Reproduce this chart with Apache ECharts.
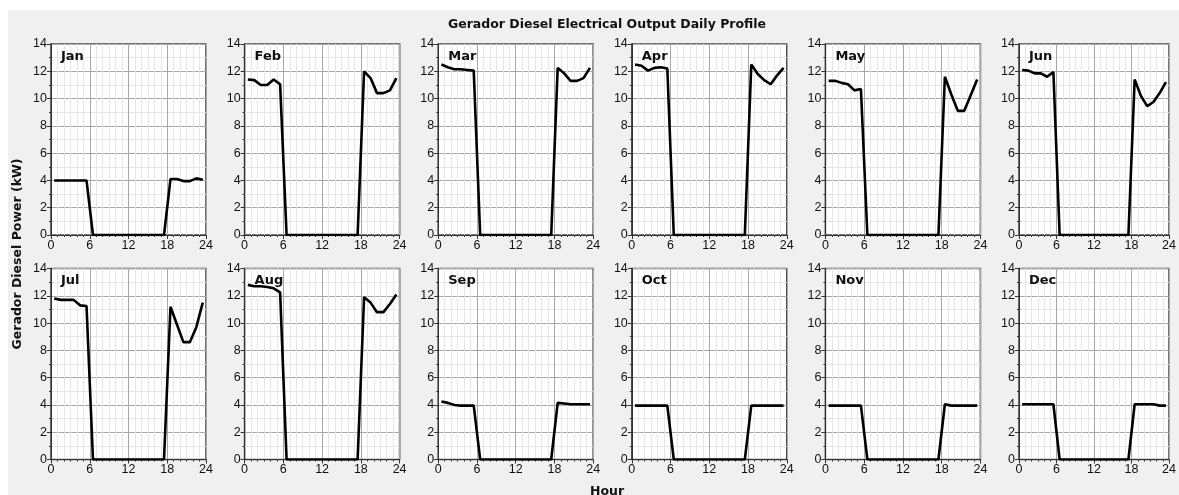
<!DOCTYPE html>
<html>
<head>
<meta charset="utf-8">
<script src="https://cdn.jsdelivr.net/npm/echarts@6/dist/echarts.min.js"></script>
<style>
html,body{margin:0;padding:0;background:#fff;}
#chart{width:1179px;height:495px;}
</style>
</head>
<body>
<div id="chart"></div>
<script>
// ---- data ----
const TITLE = 'Gerador Diesel Electrical Output Daily Profile';
const Y_NAME = 'Gerador Diesel Power (kW)';
const X_NAME = 'Hour';
const MONTHS = ['Jan','Feb','Mar','Apr','May','Jun','Jul','Aug','Sep','Oct','Nov','Dec'];
const HOURS = [0.5,1.5,2.5,3.5,4.5,5.5,6.5,7.5,8.5,9.5,10.5,11.5,12.5,13.5,14.5,15.5,16.5,17.5,18.5,19.5,20.5,21.5,22.5,23.5];
const X_TICKS = [0,6,12,18,24];
const Y_TICKS = [0,2,4,6,8,10,12,14];

const JAN = [4.0,4.0,4.0,4.0,4.0,4.0, 0,0,0,0,0,0,0,0,0,0,0,0, 4.1,4.1,3.95,3.95,4.15,4.05];
const FEB = [11.4,11.35,11.0,11.0,11.4,11.05, 0,0,0,0,0,0,0,0,0,0,0,0, 12.0,11.5,10.4,10.4,10.6,11.5];
const MAR = [12.5,12.3,12.15,12.15,12.1,12.05, 0,0,0,0,0,0,0,0,0,0,0,0, 12.25,11.85,11.3,11.3,11.5,12.25];
const APR = [12.5,12.4,12.05,12.25,12.3,12.2, 0,0,0,0,0,0,0,0,0,0,0,0, 12.5,11.8,11.35,11.05,11.7,12.25];
const MAY = [11.3,11.3,11.15,11.05,10.6,10.7, 0,0,0,0,0,0,0,0,0,0,0,0, 11.6,10.3,9.1,9.1,10.25,11.4];
const JUN = [12.1,12.05,11.85,11.85,11.6,11.95, 0,0,0,0,0,0,0,0,0,0,0,0, 11.4,10.2,9.45,9.75,10.4,11.2];
const JUL = [11.8,11.7,11.7,11.7,11.3,11.25, 0,0,0,0,0,0,0,0,0,0,0,0, 11.2,9.9,8.6,8.6,9.7,11.5];
const AUG = [12.8,12.7,12.7,12.65,12.55,12.25, 0,0,0,0,0,0,0,0,0,0,0,0, 11.9,11.5,10.8,10.8,11.4,12.1];
const SEP = [4.25,4.15,4.0,3.95,3.95,3.95, 0,0,0,0,0,0,0,0,0,0,0,0, 4.15,4.1,4.05,4.05,4.05,4.05];
const OCT = [3.95,3.95,3.95,3.95,3.95,3.95, 0,0,0,0,0,0,0,0,0,0,0,0, 3.95,3.95,3.95,3.95,3.95,3.95];
const NOV = [3.95,3.95,3.95,3.95,3.95,3.95, 0,0,0,0,0,0,0,0,0,0,0,0, 4.05,3.95,3.95,3.95,3.95,3.95];
const DEC = [4.05,4.05,4.05,4.05,4.05,4.05, 0,0,0,0,0,0,0,0,0,0,0,0, 4.05,4.05,4.05,4.05,3.95,3.95];
const SERIES_VALUES = [JAN,FEB,MAR,APR,MAY,JUN,JUL,AUG,SEP,OCT,NOV,DEC];

// ---- layout ----
const FONT = '"Liberation Sans", Arial, sans-serif';
const BOLD_FONT = '"DejaVu Sans", "Liberation Sans", sans-serif';
const COL_LEFT0 = 51, COL_STEP = 193.6, PLOT_W = 155;
const ROW_TOPS = [44, 268.5], PLOT_H = 191;

const grids = [], xAxes = [], yAxes = [], series = [], titles = [];
MONTHS.forEach((m, i) => {
  const col = i % 6, row = Math.floor(i / 6);
  const left = COL_LEFT0 + col * COL_STEP;
  const top = ROW_TOPS[row];
  grids.push({left: left, top: top, width: PLOT_W, height: PLOT_H, show: true,
    borderColor: '#4a4a4a', borderWidth: 1.6, backgroundColor: '#fff', containLabel: false});
  xAxes.push({
    type: 'value', gridIndex: i, min: X_TICKS[0], max: X_TICKS[X_TICKS.length-1], interval: 6,
    axisLine: {show: true, onZero: false, lineStyle: {color: '#333', width: 1}},
    axisTick: {show: true, length: 4, lineStyle: {color: '#333'}},
    minorTick: {show: true, splitNumber: 6, length: 2, lineStyle: {color: '#333'}},
    axisLabel: {fontFamily: FONT, fontSize: 12.5, color: '#111', margin: 4},
    splitLine: {show: true, lineStyle: {color: '#a8a8a8', width: 1}},
    minorSplitLine: {show: true, lineStyle: {color: '#e6e6e6', width: 1}}
  });
  yAxes.push({
    type: 'value', gridIndex: i, min: Y_TICKS[0], max: Y_TICKS[Y_TICKS.length-1], interval: 2,
    axisLine: {show: true, lineStyle: {color: '#333', width: 1}},
    axisTick: {show: true, length: 4, lineStyle: {color: '#333'}},
    minorTick: {show: true, splitNumber: 2, length: 2, lineStyle: {color: '#333'}},
    axisLabel: {fontFamily: FONT, fontSize: 12.5, color: '#111', margin: 4},
    splitLine: {show: true, lineStyle: {color: '#a8a8a8', width: 1}},
    minorSplitLine: {show: true, lineStyle: {color: '#e6e6e6', width: 1}}
  });
  series.push({
    type: 'line', xAxisIndex: i, yAxisIndex: i, name: m,
    data: HOURS.map((h, k) => [h, SERIES_VALUES[i][k]]),
    showSymbol: false, symbol: 'none', smooth: false,
    lineStyle: {color: '#000', width: 2.6}, z: 5
  });
  titles.push({
    text: m, left: left + 5, top: top + 1,
    textStyle: {fontFamily: BOLD_FONT, fontSize: 13, fontWeight: 'bold', color: '#111'}
  });
});

const chart = echarts.init(document.getElementById('chart'), null, {renderer: 'canvas'});
chart.setOption({
  animation: false,
  backgroundColor: '#fff',
  title: titles,
  grid: grids,
  xAxis: xAxes,
  yAxis: yAxes,
  series: series,
  graphic: [
    {type: 'rect', z: -10, silent: true, shape: {x: 8, y: 10, width: 1171, height: 485}, style: {fill: '#f0f0f0'}},
    {type: 'text', x: 607, y: 25, silent: true,
      style: {text: TITLE, font: 'bold 12.5px ' + BOLD_FONT, fill: '#111', align: 'center', verticalAlign: 'middle'}},
    {type: 'text', x: 18, y: 254, rotation: Math.PI / 2, silent: true,
      style: {text: Y_NAME, font: 'bold 12.5px ' + BOLD_FONT, fill: '#111', align: 'center', verticalAlign: 'middle'}},
    {type: 'text', x: 607, y: 485, silent: true,
      style: {text: X_NAME, font: 'bold 12.5px ' + BOLD_FONT, fill: '#111', align: 'center', verticalAlign: 'top'}}
  ]
});
</script>
</body>
</html>
